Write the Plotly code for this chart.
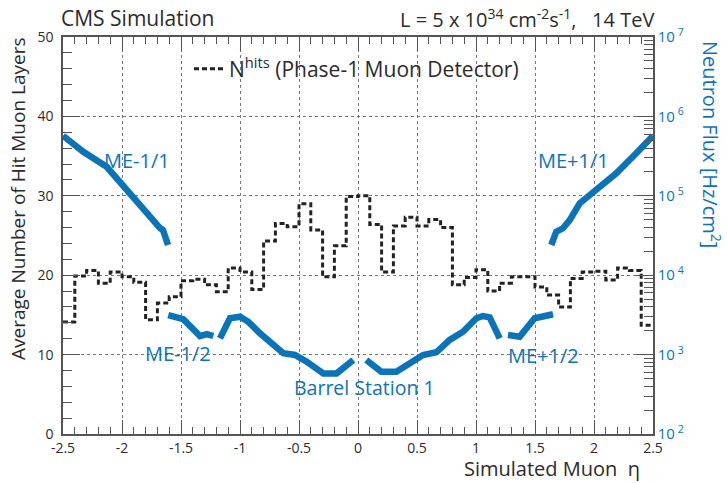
import numpy as np
import plotly.graph_objects as go

# ---------------- data ----------------
bin_edges = [round(-2.5 + 0.1 * i, 1) for i in range(51)]
nhits = [14.1, 19.9, 20.6, 19.0, 20.4, 19.8, 19.1, 14.4, 16.5, 17.3,
         19.3, 19.5, 18.8, 17.9, 20.9, 20.4, 18.2, 24.3, 26.5, 26.1,
         29.0, 25.7, 19.8, 23.7, 29.9, 30.0, 26.4, 20.4, 26.2, 27.3,
         26.2, 27.0, 26.0, 18.8, 19.7, 20.7, 18.0, 19.0, 19.8, 19.8,
         18.5, 17.5, 16.0, 19.6, 20.4, 20.5, 19.4, 20.9, 20.6, 13.7]

me11m_eta = [-2.5, -2.328, -2.13, -1.96, -1.82, -1.735, -1.678, -1.653, -1.61]
me11m_flux = [5.71e5, 3.59e5, 2.32e5, 1.18e5, 6.62e4, 4.95e4, 3.93e4, 3.71e4, 2.40e4]

me12m_eta = [-1.608, -1.481, -1.339, -1.282, -1.226]
me12m_flux = [3150, 2790, 1715, 1815, 1715]

mb1m_eta = [-1.17, -1.085, -1.0, -0.93, -0.831, -0.746, -0.633, -0.534, -0.435, -0.294, -0.181, -0.04]
mb1m_flux = [1600, 2865, 3000, 2595, 1855, 1450, 1040, 990, 815, 580, 580, 855]

mb1p_eta = [0.07, 0.197, 0.325, 0.466, 0.551, 0.664, 0.777, 0.89, 1.003, 1.059, 1.116, 1.201]
mb1p_flux = [855, 610, 610, 855, 990, 1070, 1530, 1940, 2865, 3060, 2950, 1600]

me12p_eta = [1.271, 1.37, 1.497, 1.582, 1.653]
me12p_flux = [1765, 1680, 2865, 3000, 3220]

me11p_eta = [1.638, 1.68, 1.737, 1.794, 1.879, 2.019, 2.189, 2.358, 2.5]
me11p_flux = [2.40e4, 3.53e4, 3.90e4, 4.95e4, 8.05e4, 1.18e5, 1.92e5, 3.43e5, 5.71e5]

x_ticks = [-2.5, -2, -1.5, -1, -0.5, 0, 0.5, 1, 1.5, 2, 2.5]
x_ticklabels = ["-2.5", "-2", "-1.5", "-1", "-0.5", "0", "0.5", "1", "1.5", "2", "2.5"]
y2_ticks = [1e2, 1e3, 1e4, 1e5, 1e6, 1e7]
y2_ticklabels = ["10<sup> 2</sup>", "10<sup> 3</sup>", "10<sup> 4</sup>",
                 "10<sup> 5</sup>", "10<sup> 6</sup>", "10<sup> 7</sup>"]

# ---------------- style ----------------
BLUE = "#0b74b8"
DARK = "#2b2b2b"
AXC = "#555555"
FONT = "Open Sans"

fig = go.Figure()

fig.add_trace(go.Scatter(
    x=bin_edges, y=nhits + [nhits[-1]], mode="lines", line_shape="hv",
    line=dict(color="#222222", width=3, dash="5px,3px"),
    name="N<sup>hits</sup> (Phase-1 Muon Detector)", showlegend=True))

for ex, fl in [(me11m_eta, me11m_flux), (me12m_eta, me12m_flux), (mb1m_eta, mb1m_flux),
               (mb1p_eta, mb1p_flux), (me12p_eta, me12p_flux), (me11p_eta, me11p_flux)]:
    fig.add_trace(go.Scatter(x=ex, y=fl, mode="lines", yaxis="y2",
                             line=dict(color=BLUE, width=6.5), showlegend=False))

W, H = 727, 483
L, R, T, B = 63, 74, 37, 49
pw, ph = W - L - R, H - T - B


def px(xp):
    return (xp - L) / pw


def py(yp):
    return (H - B - yp) / ph


fig.update_layout(
    width=W, height=H,
    margin=dict(l=L, r=R, t=T, b=B, autoexpand=False),
    paper_bgcolor="white", plot_bgcolor="white",
    font=dict(family=FONT, color=DARK, size=14),
    xaxis=dict(range=[-2.5, 2.5], tickmode="array", tickvals=x_ticks, ticktext=x_ticklabels,
               ticks="inside", ticklen=14, tickwidth=1, tickcolor=AXC,
               showline=True, linecolor=AXC, linewidth=1.5, mirror="ticks",
               showgrid=True, gridcolor="#777777", griddash="dot", gridwidth=1,
               zeroline=False, tickfont=dict(size=14, color=DARK), ticklabelstandoff=0,
               minor=dict(dtick=0.1, ticks="inside", ticklen=7, tickcolor=AXC, showgrid=False)),
    yaxis=dict(range=[0, 50], dtick=10, ticks="inside", ticklen=17, tickcolor=AXC,
               showline=True, linecolor=AXC, linewidth=1.5, mirror=False,
               showgrid=True, gridcolor="#777777", griddash="dot", gridwidth=1,
               zeroline=False, tickfont=dict(size=14, color=DARK), ticklabelstandoff=5,
               minor=dict(dtick=2, ticks="inside", ticklen=9, tickcolor=AXC, showgrid=False)),
    yaxis2=dict(type="log", range=[2, 7], overlaying="y", side="right",
                tickmode="array", tickvals=y2_ticks, ticktext=y2_ticklabels,
                ticks="inside", ticklen=17, tickcolor=AXC,
                showline=True, linecolor=AXC, linewidth=1.5, showgrid=False,
                zeroline=False, tickfont=dict(size=15, color=BLUE),
                minor=dict(ticks="inside", ticklen=9, tickcolor=AXC, dtick="D1", showgrid=False)),
    legend=dict(x=px(189), y=py(69), xanchor="left", yanchor="middle",
                bgcolor="rgba(0,0,0,0)", font=dict(size=21, color=DARK, family=FONT)),
    showlegend=True,
)

ann = []
ann.append(dict(text="CMS Simulation", x=px(59), y=py(18), xref="paper", yref="paper",
                xanchor="left", yanchor="middle", showarrow=False, font=dict(size=21, color=DARK)))
ann.append(dict(text="L = 5 x 10<sup>34</sup> cm<sup>-2</sup>s<sup>-1</sup>,\u00a0\u00a0\u00a014 TeV",
                x=px(656), y=py(19), xref="paper", yref="paper", xanchor="right", yanchor="middle",
                showarrow=False, font=dict(size=20, color=DARK)))
ann.append(dict(text="Simulated Muon \u00a0\u03b7", x=px(641), y=py(482.5), xref="paper", yref="paper",
                xanchor="right", yanchor="bottom", showarrow=False, borderpad=0,
                font=dict(size=20, color=DARK)))
ann.append(dict(text="Average Number of Hit Muon Layers", x=px(18), y=py(199), xref="paper", yref="paper",
                xanchor="center", yanchor="middle", textangle=-90, showarrow=False,
                font=dict(size=19, color=DARK)))
ann.append(dict(text="Neutron Flux [Hz/cm<sup>2</sup>]", x=px(712), y=py(144), xref="paper", yref="paper",
                xanchor="center", yanchor="middle", textangle=90, showarrow=False,
                font=dict(size=20, color=BLUE)))

labels = [("ME-1/1", -1.873, 34.5, 20), ("ME+1/1", 1.822, 34.5, 20), ("ME-1/2", -1.525, 10.1, 20),
          ("ME+1/2", 1.568, 9.95, 20), ("Barrel Station 1", 0.051, 5.8, 19.5)]
for t, xx, yy, fs in labels:
    ann.append(dict(text=t, x=xx, y=yy, xref="x", yref="y", showarrow=False,
                    xanchor="center", yanchor="middle", font=dict(size=fs, color=BLUE)))

fig.update_layout(annotations=ann)
fig.write_html("out.html", config={"displayModeBar": False},
               post_script="document.body.style.margin='0px';")
